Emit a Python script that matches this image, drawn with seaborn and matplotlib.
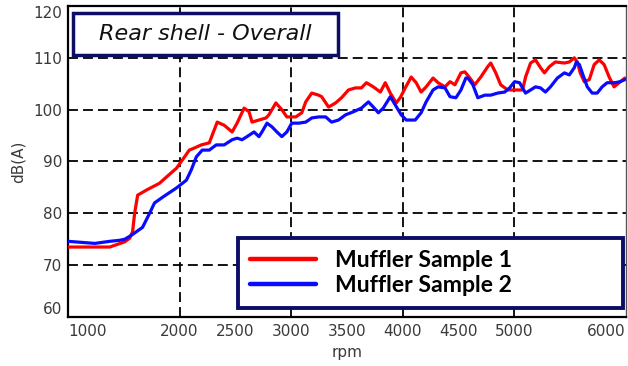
import matplotlib
matplotlib.use("Agg")
import matplotlib.pyplot as plt
import matplotlib.patches as mpatches
from matplotlib.lines import Line2D
import pandas as pd
import seaborn as sns

# Overall sound level (dB(A)) versus engine speed for two muffler samples
rpm_s1 = [1000, 1374, 1508, 1553, 1579, 1597, 1624, 1704, 1820, 1882, 1972, 2025,
          2087, 2132, 2194, 2266, 2337, 2399, 2471, 2515, 2578, 2622, 2649, 2711,
          2774, 2800, 2863, 2916, 2961, 3041, 3095, 3130, 3184, 3246, 3273, 3335,
          3398, 3451, 3513, 3576, 3629, 3674, 3736, 3799, 3843, 3888, 3941, 3977,
          4022, 4075, 4120, 4164, 4209, 4271, 4316, 4378, 4423, 4467, 4521, 4556,
          4601, 4645, 4699, 4761, 4788, 4833, 4877, 4940, 5073, 5100, 5145, 5189,
          5234, 5269, 5314, 5367, 5448, 5492, 5537, 5564, 5590, 5626, 5671, 5715,
          5760, 5804, 5849, 5893, 5938, 5990]
db_s1 = [73.5, 73.5, 74.5, 75.2, 76.5, 80.0, 83.5, 84.5, 85.8, 87.0, 88.7, 90.3,
         92.2, 92.6, 93.2, 93.6, 97.6, 97.0, 95.7, 97.4, 100.3, 99.6, 97.6, 98.0,
         98.4, 99.0, 101.3, 100.0, 98.6, 98.6, 99.4, 101.5, 103.2, 102.8, 102.5, 100.5,
         101.3, 102.3, 103.8, 104.2, 104.2, 105.2, 104.4, 103.4, 105.2, 103.2, 101.3, 102.3,
         104.2, 106.3, 105.2, 103.4, 104.4, 106.1, 105.2, 104.4, 105.4, 104.8, 107.1, 107.3,
         106.1, 104.8, 106.3, 108.3, 109.0, 107.1, 104.8, 103.8, 103.8, 106.3, 109.0, 109.6,
         108.1, 107.1, 108.3, 109.2, 109.0, 109.2, 110.0, 109.2, 107.1, 105.4, 105.8, 108.7,
         109.6, 108.7, 106.3, 104.4, 105.2, 106.1]

rpm_s2 = [1000, 1241, 1374, 1463, 1508, 1570, 1668, 1731, 1775, 1847, 1972, 2061,
          2105, 2150, 2203, 2266, 2328, 2399, 2471, 2515, 2560, 2604, 2667, 2711,
          2738, 2783, 2827, 2872, 2916, 2961, 3005, 3068, 3130, 3184, 3246, 3309,
          3362, 3424, 3487, 3558, 3629, 3692, 3736, 3781, 3825, 3888, 3933, 3986,
          4031, 4111, 4164, 4209, 4271, 4316, 4378, 4423, 4476, 4521, 4565, 4583,
          4628, 4672, 4735, 4788, 4850, 4913, 4957, 5002, 5046, 5100, 5145, 5189,
          5234, 5278, 5323, 5385, 5448, 5492, 5537, 5555, 5582, 5608, 5653, 5697,
          5742, 5786, 5831, 5902, 5947, 5990]
db_s2 = [74.6, 74.2, 74.6, 74.8, 75.0, 75.8, 77.3, 80.0, 82.0, 83.1, 84.9, 86.4,
         88.4, 90.9, 92.2, 92.2, 93.2, 93.2, 94.2, 94.5, 94.2, 94.8, 95.7, 94.8,
         95.7, 97.4, 96.7, 95.7, 94.8, 95.7, 97.4, 97.4, 97.6, 98.4, 98.6, 98.6,
         97.6, 98.0, 99.0, 99.6, 100.3, 101.5, 100.5, 99.4, 100.3, 102.5, 100.9, 99.0,
         98.0, 98.0, 99.4, 101.5, 103.8, 104.4, 104.2, 102.5, 102.3, 103.8, 106.1, 106.1,
         104.8, 102.3, 102.8, 102.8, 103.2, 103.4, 104.2, 105.4, 105.2, 103.2, 103.8, 104.4,
         104.2, 103.4, 104.4, 106.1, 107.1, 106.7, 108.1, 109.2, 108.7, 107.1, 104.4, 103.2,
         103.2, 104.4, 105.2, 105.2, 105.4, 105.8]

series_names = ["Muffler Sample 1", "Muffler Sample 2"]
series_colors = ["#ff0000", "#0a0aff"]
x_ticks = [1000, 1500, 2000, 2500, 3000, 3500, 4000, 4500, 5000, 5500, 6000]
x_tick_labels = ["1000", "", "2000", "2500", "3000", "3500", "4000", "4500", "5000", "", "6000"]
y_ticks = [60, 70, 80, 90, 100, 110, 120]
grid_rpm = [2000, 3000, 4000, 5000]
grid_db = [70, 80, 90, 100, 110]
panel_title = "Rear shell - Overall"

df = pd.concat([
    pd.DataFrame({"rpm": rpm_s1, "dB": db_s1, "sample": series_names[0]}),
    pd.DataFrame({"rpm": rpm_s2, "dB": db_s2, "sample": series_names[1]}),
], ignore_index=True)

sns.set_theme(style="white")
plt.rcParams["font.family"] = ["DejaVu Sans"]

W, H = 628, 366
fig = plt.figure(figsize=(W / 100, H / 100), dpi=100)
ax = fig.add_axes([68 / W, 49 / H, 558 / W, 311 / H])

palette = dict(zip(series_names, series_colors))
sns.lineplot(data=df, x="rpm", y="dB", hue="sample", palette=palette,
             estimator=None, sort=False, linewidth=2.3, legend=False, ax=ax, zorder=3)

ax.set_xlim(1000, 6000)
ax.set_ylim(60, 120)

dash = (0, (5.5, 2.8))
for g in grid_db:
    ax.axhline(g, color="black", lw=1.3, ls=dash, zorder=1)
for g in grid_rpm:
    ax.axvline(g, color="black", lw=1.3, ls=dash, zorder=1)

ax.set_xticks(x_ticks)
ax.set_xticklabels(x_tick_labels)
ax.set_yticks(y_ticks)
ax.set_yticklabels([str(v) for v in y_ticks])
xl = ax.get_xticklabels()
xl[0].set_ha("left")
xl[-1].set_ha("right")
yl = ax.get_yticklabels()
yl[-1].set_va("top")
yl[0].set_va("bottom")

ax.tick_params(axis="both", direction="in", length=5, width=1.5, color="black",
               labelsize=11, labelcolor="#3a3a3a")
ax.tick_params(axis="x", pad=5)
ax.tick_params(axis="y", pad=4)

ax.set_xlabel("rpm", fontsize=11, color="#3a3a3a", labelpad=4)
ax.set_ylabel("dB(A)", fontsize=11, color="#3a3a3a", labelpad=6)

for side in ["left", "bottom", "top"]:
    ax.spines[side].set_color("black")
    ax.spines[side].set_linewidth(1.6)
ax.spines["right"].set_color("#555555")
ax.spines["right"].set_linewidth(1.0)

# Title box in the upper-left corner
ax.add_patch(mpatches.Rectangle((5 / 558, (317 - 55) / 311), 265 / 558, 42 / 311,
                                transform=ax.transAxes, facecolor="white",
                                edgecolor="#0d0d66", lw=2.5, zorder=5))
ax.text((5 + 132.5) / 558, (317 - 34) / 311, panel_title, transform=ax.transAxes,
        ha="center", va="center", fontsize=16, style="italic", color="#111111", zorder=6)

handles = [Line2D([], [], color=c, lw=3.2) for c in series_colors]
leg = ax.legend(handles, series_names, loc="lower left",
                bbox_to_anchor=((238 - 68) / 558, (317 - 308) / 311, 385 / 558, 80 / 311),
                mode="expand", borderaxespad=0, frameon=True, fancybox=False,
                framealpha=1, handlelength=2.9, handletextpad=0.8, borderpad=0.5,
                labelspacing=0.2,
                prop={"family": "Lato", "weight": "bold", "size": 16.6})
for t in leg.get_texts():
    t.set_color("black")
leg.get_frame().set_edgecolor("#0d0d66")
leg.get_frame().set_linewidth(2.8)
leg.set_zorder(6)

fig.savefig("out.png", dpi=100)
